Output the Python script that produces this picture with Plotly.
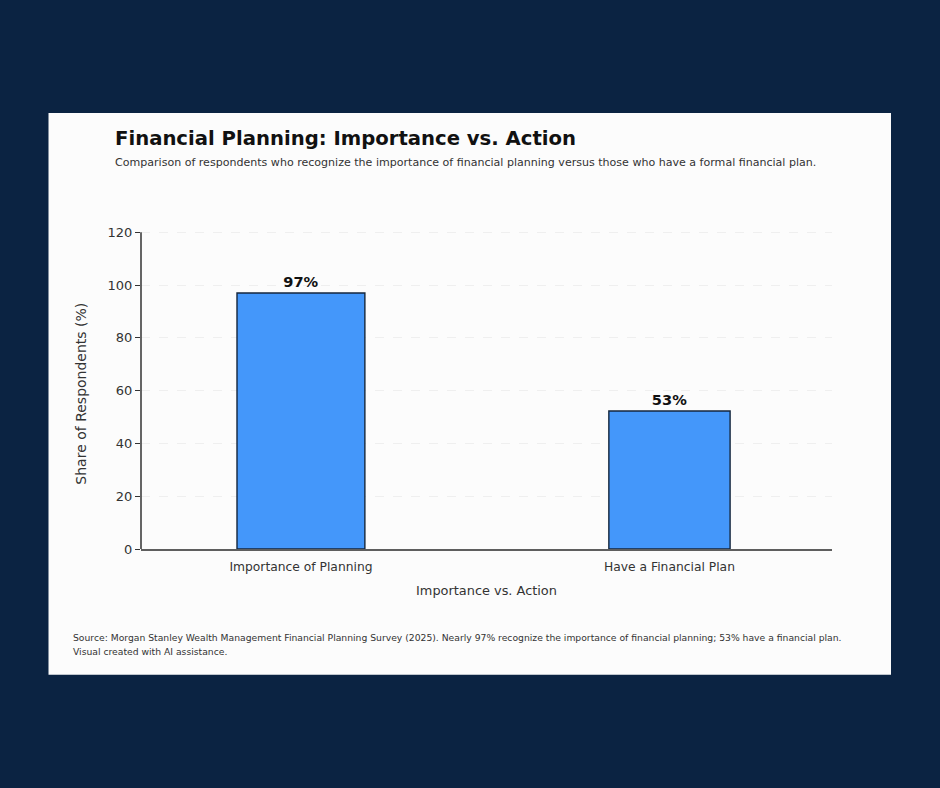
import plotly.graph_objects as go

categories = ['Importance of Planning', 'Have a Financial Plan']
values = [97, 52.3]
labels = ['97%', '53%']
# the two bars are not quite the same width in the original
bar_widths = [0.347, 0.329]
y_ticks = [0, 20, 40, 60, 80, 100, 120]

W, H = 940, 788
# axes box in pixels, top sits a bit above the 120 tick so its gridline still draws
LEFT, RIGHT, TOP, BOTTOM = 141, 832, 231.18, 549.5
FONT = 'DejaVu Sans'

def px(x):
    return (x - LEFT) / (RIGHT - LEFT)

def py(y):
    return (BOTTOM - y) / (BOTTOM - TOP)

def note(text, x, y, size, color='#333333', weight='normal'):
    return dict(text=text, xref='paper', yref='paper', x=px(x), y=py(y),
                xanchor='left', yanchor='middle', showarrow=False,
                font=dict(size=size, color=color, weight=weight))

trace = go.Bar(
    x=[0, 1],
    y=values,
    width=bar_widths,
    text=labels,
    textposition='outside',
    cliponaxis=False,
    textfont=dict(family=FONT, size=14.6, color='#111111', weight='bold'),
    marker=dict(color='#4497FA', line=dict(color='#14263C', width=1.4)),
    hoverinfo='x+y',
)

layout = go.Layout(
    width=W,
    height=H,
    margin=dict(l=LEFT, r=W - RIGHT, t=TOP, b=H - BOTTOM, pad=0, autoexpand=False),
    paper_bgcolor='#0B2342',
    plot_bgcolor='rgba(0,0,0,0)',
    font=dict(family=FONT, color='#222222'),
    showlegend=False,
    xaxis=dict(
        tickmode='array',
        tickvals=[0, 1],
        ticktext=categories,
        range=[-0.434, 1.441],
        # invisible ticks just push the labels down
        ticks='outside',
        ticklen=5,
        tickcolor='rgba(0,0,0,0)',
        tickfont=dict(size=12.3, color='#333333'),
        showgrid=False,
        zeroline=False,
        showline=True,
        linecolor='#5E5E5E',
        linewidth=2,
        title=dict(text='Importance vs. Action', font=dict(size=12.9, color='#333333'), standoff=13),
    ),
    yaxis=dict(
        tickmode='array',
        tickvals=y_ticks,
        range=[0, 120.5],
        ticks='outside',
        ticklen=5,
        tickcolor='#333333',
        tickfont=dict(size=13, color='#333333'),
        showgrid=True,
        gridcolor='#EFEFEF',
        griddash='dash',
        gridwidth=1,
        zeroline=False,
        showline=False,
    ),
    # white panel behind the chart, y axis line stops at the 120 tick
    shapes=[
        dict(type='rect', xref='paper', yref='paper', layer='below',
             x0=px(48.5), x1=px(891), y0=py(675.5), y1=py(113),
             fillcolor='#FCFCFC', line_width=0),
        dict(type='line', xref='x domain', yref='y', x0=0, x1=0, y0=0, y1=y_ticks[-1],
             line=dict(color='#333333', width=1.5)),
    ],
    annotations=[
        note('Financial Planning: Importance vs. Action', 113, 138.7, 19.65, '#111111', 'bold'),
        note('Comparison of respondents who recognize the importance of financial planning versus those who have a formal financial plan.',
             113, 162.7, 11.05),
        dict(text='Share of Respondents (%)', xref='paper', yref='paper', x=px(81), y=py(394),
             xanchor='center', yanchor='middle', textangle=-90, showarrow=False,
             font=dict(size=14, color='#333333')),
        note('Source: Morgan Stanley Wealth Management Financial Planning Survey (2025). Nearly 97% recognize the importance of financial planning; 53% have a financial plan.',
             71, 637.8, 9.22),
        note('Visual created with AI assistance.', 71, 652, 9.22),
    ],
)

fig = go.Figure(data=[trace], layout=layout)
# browser default body margin would shift the whole picture
fig.write_html("out.html", config=dict(displayModeBar=False),
               post_script="document.body.style.margin='0';")
